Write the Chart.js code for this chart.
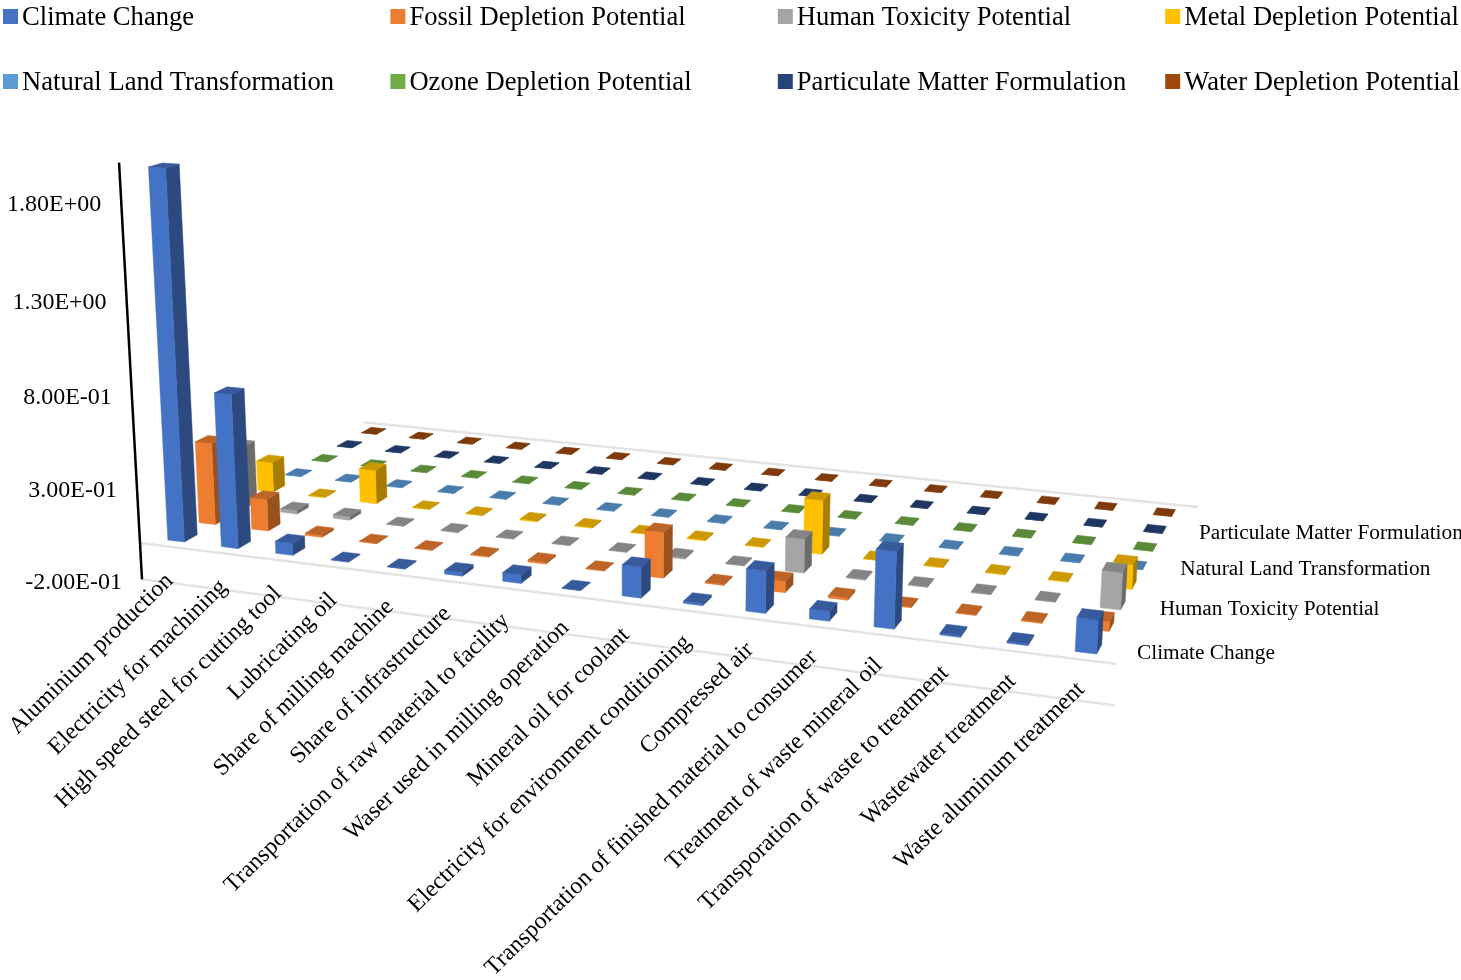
<!DOCTYPE html>
<html>
<head>
<meta charset="utf-8">
<title>Impact categories by process</title>
<script src="https://cdn.jsdelivr.net/npm/chart.js@4"></script>
<style>
  html, body { margin: 0; padding: 0; background: #fff; overflow: hidden; }
  canvas { display: block; }
</style>
</head>
<body>
<canvas id="impactChart" width="1461" height="980"></canvas>
<script>
const categories = [
  "Aluminium production", "Electricity for machining", "High speed steel for cutting tool",
  "Lubricating oil", "Share of milling machine", "Share of infrastructure",
  "Transportation of raw material to facility", "Waser used in milling operation",
  "Mineral oil for coolant", "Electricity for environment conditioning", "Compressed air",
  "Transportation of finished material to consumer", "Treatment of waste mineral oil",
  "Transporation of waste to treatment", "Wastewater treatment", "Waste aluminum treatment"
];
const seriesNames = [
  "Climate Change", "Fossil Depletion Potential", "Human Toxicity Potential", "Metal Depletion Potential",
  "Natural Land Transformation", "Ozone Depletion Potential", "Particulate Matter Formulation", "Water Depletion Potential"
];
const depthLabels = ["Climate Change", "Human Toxicity Potential", "Natural Land Transformation", "Particulate Matter Formulation"];
const yTicks = [-0.2, 0.3, 0.8, 1.3, 1.8];
const yTickLabels = ["-2.00E-01", "3.00E-01", "8.00E-01", "1.30E+00", "1.80E+00"];

const climateChange   = [1.97, 0.825, 0.065, 0.003, 0.003, 0.02, 0.045, 0.002, 0.16, 0.012, 0.215, 0.05, 0.385, 0.008, 0.008, 0.165];
const fossilDepletion = [0.45, 0.175, 0.012, 0.004, 0.003, 0.006, 0.01, 0.003, 0.24, 0.006, 0.06, 0.012, 0.004, 0.004, 0.005, 0.05];
const humanToxicity   = [0.345, 0.02, 0.02, 0.003, 0.003, 0.002, 0.003, 0.002, 0.008, 0.003, 0.18, 0.005, 0.004, 0.003, 0.003, 0.19];
const metalDepletion  = [0.17, 0.004, 0.19, 0.003, 0.003, 0.005, 0.005, 0.003, 0.006, 0.004, 0.29, 0.003, 0.004, 0.004, 0.004, 0.13];
const naturalLand     = [0.002, 0.002, 0.002, 0.002, 0.002, 0.002, 0.002, 0.002, 0.002, 0.002, 0.002, 0.002, 0.002, 0.002, 0.002, 0.002];
const ozoneDepletion  = [0.001, 0.001, 0.001, 0.001, 0.001, 0.001, 0.001, 0.001, 0.001, 0.001, 0.001, 0.001, 0.001, 0.001, 0.001, 0.001];
const particulate     = [0.002, 0.002, 0.001, 0.001, 0.001, 0.001, 0.001, 0.001, 0.001, 0.001, 0.002, 0.001, 0.001, 0.001, 0.001, 0.001];
const waterDepletion  = [0.001, 0.001, 0.001, 0.001, 0.001, 0.001, 0.001, 0.001, 0.001, 0.001, 0.001, 0.001, 0.001, 0.001, 0.001, 0.001];

const seriesValues = [climateChange, fossilDepletion, humanToxicity, metalDepletion, naturalLand, ozoneDepletion, particulate, waterDepletion];
const seriesColors = ["#4472C4", "#ED7D31", "#A5A5A5", "#FFC000", "#5B9BD5", "#70AD47", "#264478", "#9E480E"];

const SERIF = '"Liberation Serif", "Times New Roman", serif';

// floor of the 3D box on the canvas: front-left, front-right, back-right, back-left
const FLOOR = [[140, 543], [1117, 664], [1198, 507], [362, 422]];
// uprights lean toward this point far below the chart
const VANISH = [640, 9625];
const RISE = -0.0201;
const BAR_WIDTH = 0.31;
const BAR_DEPTH = 0.41;

function floorMatrix(q) {
  const dx1 = q[1][0] - q[2][0], dx2 = q[3][0] - q[2][0], sx = q[0][0] - q[1][0] + q[2][0] - q[3][0];
  const dy1 = q[1][1] - q[2][1], dy2 = q[3][1] - q[2][1], sy = q[0][1] - q[1][1] + q[2][1] - q[3][1];
  const det = dx1 * dy2 - dx2 * dy1;
  const g = (sx * dy2 - dx2 * sy) / det;
  const h = (dx1 * sy - sx * dy1) / det;
  return {
    a: q[1][0] - q[0][0] + g * q[1][0], b: q[3][0] - q[0][0] + h * q[3][0], c: q[0][0],
    d: q[1][1] - q[0][1] + g * q[1][1], e: q[3][1] - q[0][1] + h * q[3][1], f: q[0][1],
    g, h
  };
}
const M = floorMatrix(FLOOR);

// u, v are 0..1 across the category and depth scales, z is the value above the floor
function project(u, v, z) {
  const k = z * RISE;
  const w = M.g * u + M.h * v + 1 + k;
  return [
    (M.a * u + M.b * v + M.c + k * VANISH[0]) / w,
    (M.d * u + M.e * v + M.f + k * VANISH[1]) / w
  ];
}

function shade(hex, f) {
  const n = parseInt(hex.slice(1), 16);
  const c = [n >> 16, (n >> 8) & 255, n & 255].map(x => Math.round(x * f));
  return `rgb(${c[0]},${c[1]},${c[2]})`;
}

function face(ctx, pts, color) {
  ctx.beginPath();
  pts.forEach((p, i) => i ? ctx.lineTo(p[0], p[1]) : ctx.moveTo(p[0], p[1]));
  ctx.closePath();
  ctx.fillStyle = color;
  ctx.strokeStyle = color;
  ctx.lineWidth = 0.5;
  ctx.fill();
  ctx.stroke();
}

function drawBar(ctx, u, v, du, dv, z, color) {
  const u0 = u - du / 2, u1 = u + du / 2, v0 = v - dv / 2, v1 = v + dv / 2;
  face(ctx, [project(u1, v0, 0), project(u1, v1, 0), project(u1, v1, z), project(u1, v0, z)], shade(color, 0.65));
  face(ctx, [project(u0, v0, 0), project(u1, v0, 0), project(u1, v0, z), project(u0, v0, z)], color);
  face(ctx, [project(u0, v0, z), project(u1, v0, z), project(u1, v1, z), project(u0, v1, z)], shade(color, 0.8));
}

function line(ctx, a, b, color, width) {
  ctx.beginPath();
  ctx.moveTo(a[0], a[1]);
  ctx.lineTo(b[0], b[1]);
  ctx.strokeStyle = color;
  ctx.lineWidth = width;
  ctx.stroke();
}

const box3d = {
  id: "box3d",
  beforeDatasetsDraw(chart) {
    const { ctx, scales } = chart;
    const xs = scales.x, ys = scales.y, zs = scales.z;
    const uOf = i => xs.getDecimalForPixel(xs.getPixelForValue(i));
    const vOf = j => zs.getDecimalForPixel(zs.getPixelForValue(j));
    // value -> height above the floor, read back through the y scale
    const span = ys.max - ys.min;
    const dec = val => ys.getDecimalForPixel(ys.getPixelForValue(val));
    const zOf = val => (dec(val) - dec(0)) * span;
    const du = BAR_WIDTH / categories.length, dv = BAR_DEPTH / seriesNames.length;

    ctx.save();
    const low = zOf(ys.min), top = zOf(ys.max);
    line(ctx, project(0.002, 1, 0), project(1, 1, 0), "#e4e4e4", 2.5);
    line(ctx, project(0, 0, 0), project(1, 0, 0), "#e4e4e4", 2.5);
    line(ctx, project(0, 0, low), project(1, 0, low), "#e4e4e4", 2.5);

    for (let j = chart.data.datasets.length - 1; j >= 0; j--) {
      const ds = chart.data.datasets[j];
      ds.data.forEach((val, i) => drawBar(ctx, uOf(i), vOf(j), du, dv, zOf(val), ds.backgroundColor));
    }

    line(ctx, project(0, 0, low), project(0, 0, top), "#000", 2.5);

    ctx.fillStyle = "#000";
    ctx.textBaseline = "middle";

    // value axis
    ctx.font = "24px " + SERIF;
    ctx.textAlign = "right";
    ys.ticks.forEach(t => {
      const p = project(0, 0, zOf(t.value));
      ctx.fillText(t.label, p[0] - 20, p[1] + 3);
    });

    // process names along the front edge
    ctx.font = "23.8px " + SERIF;
    categories.forEach((name, i) => {
      const u = uOf(i);
      const p = project(u, 0, low);
      ctx.save();
      ctx.translate(p[0] + 1, p[1] - 5 - 10 * u);
      ctx.rotate(-0.775);
      ctx.fillText(name, 0, 0);
      ctx.restore();
    });

    // depth axis, every other series
    ctx.font = "21.3px " + SERIF;
    ctx.textAlign = "left";
    depthLabels.forEach(name => {
      const p = project(1, vOf(seriesNames.indexOf(name)), 0);
      ctx.fillText(name, p[0] + 14, p[1] + 1);
    });

    // legend, four columns over two rows
    ctx.font = "26.6px " + SERIF;
    chart.data.datasets.forEach((ds, j) => {
      const col = j % 4, row = Math.floor(j / 4);
      const x = 3 + col * 387.4, y = 16 + row * 65;
      ctx.fillStyle = ds.backgroundColor;
      ctx.fillRect(x, y - 7, 15, 15);
      ctx.fillStyle = "#000";
      ctx.fillText(ds.label, x + 19, y + 2);
    });
    ctx.restore();
    return false;
  }
};

new Chart(document.getElementById("impactChart"), {
  type: "bar",
  data: {
    labels: categories,
    datasets: seriesNames.map((name, j) => ({
      label: name,
      data: seriesValues[j],
      backgroundColor: seriesColors[j]
    }))
  },
  options: {
    responsive: false,
    animation: false,
    layout: { padding: 0 },
    plugins: { legend: { display: false }, tooltip: { enabled: false } },
    scales: {
      x: { type: "category", display: false },
      z: { type: "category", axis: "x", position: "bottom", labels: seriesNames, display: false },
      y: {
        type: "linear",
        display: false,
        min: -0.2,
        max: 2.0,
        afterBuildTicks: axis => { axis.ticks = yTicks.map((value, i) => ({ value, label: yTickLabels[i] })); },
        afterTickToLabelConversion: axis => { axis.ticks.forEach((t, i) => { t.label = yTickLabels[i]; }); }
      }
    }
  },
  plugins: [box3d]
});
</script>
</body>
</html>
